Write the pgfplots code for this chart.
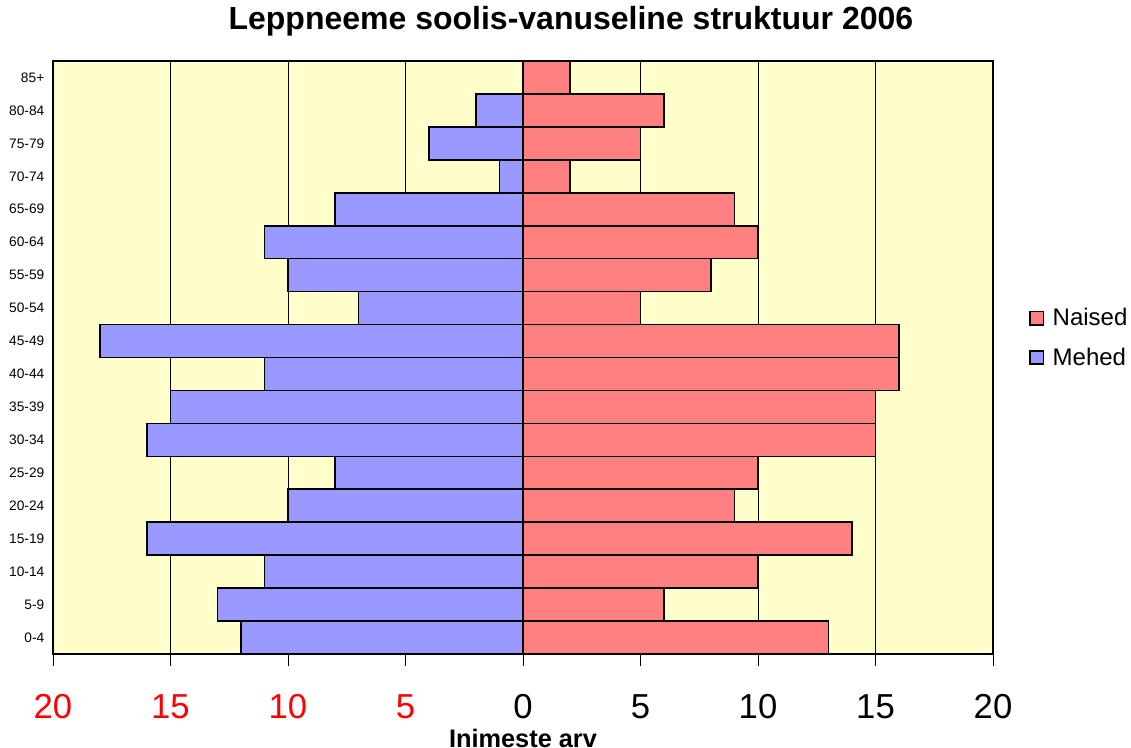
\documentclass[border=0pt]{standalone}
\usepackage{pgfplots}
\pgfplotsset{compat=1.18}
\usepackage{fontspec}
\setmainfont{Liberation Sans}
\definecolor{menblue}{HTML}{9999FF}
\definecolor{womenred}{HTML}{FF8080}
\definecolor{bgyellow}{HTML}{FFFFCC}
\begin{document}
\begin{tikzpicture}
\useasboundingbox (0,0) rectangle (848.25pt,561pt);
\begin{axis}[
  at={(39.75pt,70.5pt)}, anchor=south west,
  scale only axis, width=705pt, height=444.75pt,
  xmin=-20, xmax=20, ymin=-0.5, ymax=17.5,
  axis background/.style={fill=bgyellow},
  xbar, bar width=1, bar shift=0pt,
  ytick={0,...,17},
  yticklabels={0-4,5-9,10-14,15-19,20-24,25-29,30-34,35-39,40-44,45-49,50-54,55-59,60-64,65-69,70-74,75-79,80-84,85+},
  xtick={-20,-15,...,20},
  xticklabels={\textcolor{red}{20},\textcolor{red}{15},\textcolor{red}{10},\textcolor{red}{5},0,5,10,15,20},
  xmajorgrids, grid style={black, line width=0.6pt},
  tick align=outside, major tick length=9pt,
  xtick pos=bottom, ytick pos=left,
  x tick style={black, line width=0.6pt},
  y tick style={draw=none},
  axis line style={black, line width=0.8pt},
  /pgf/number format/assume math mode=true,
  yticklabel style={font=\fontsize{10.3}{12}\selectfont, xshift=6pt},
  xticklabel style={font=\fontsize{26}{30}\selectfont, inner sep=0pt, anchor=base, yshift=-39.75pt},
  title={Leppneeme soolis-vanuseline struktuur 2006},
  title style={at={(0.551,1.039)}, anchor=base, font=\bfseries\fontsize{24}{28}\selectfont},
  xlabel={Inimeste arv},
  xlabel style={at={(0.5,-0.158)}, anchor=base, font=\bfseries\fontsize{19}{22}\selectfont},
  legend style={at={(1.034,0.533)}, anchor=west, draw=none, fill=none,
    font=\fontsize{18}{21}\selectfont, row sep=13pt,
    nodes={inner sep=1pt}},
  legend cell align=left,
  legend image code/.code={\draw[#1,draw=black,line width=1.2pt] (0pt,-5pt) rectangle (10pt,5pt);
    \path[draw=none,fill=none] (0pt,0pt) -- (16pt,0pt);},
]
\addplot[fill=womenred, draw=black, line width=1.2pt] coordinates {
  (13,0) (6,1) (10,2) (14,3) (9,4) (10,5) (15,6) (15,7) (16,8)
  (16,9) (5,10) (8,11) (10,12) (9,13) (2,14) (5,15) (6,16) (2,17)};
\addlegendentry{Naised}
\addplot[fill=menblue, draw=black, line width=1.2pt] coordinates {
  (-12,0) (-13,1) (-11,2) (-16,3) (-10,4) (-8,5) (-16,6) (-15,7) (-11,8)
  (-18,9) (-7,10) (-10,11) (-11,12) (-8,13) (-1,14) (-4,15) (-2,16) (0,17)};
\addlegendentry{Mehed}
\end{axis}
\end{tikzpicture}
\end{document}
